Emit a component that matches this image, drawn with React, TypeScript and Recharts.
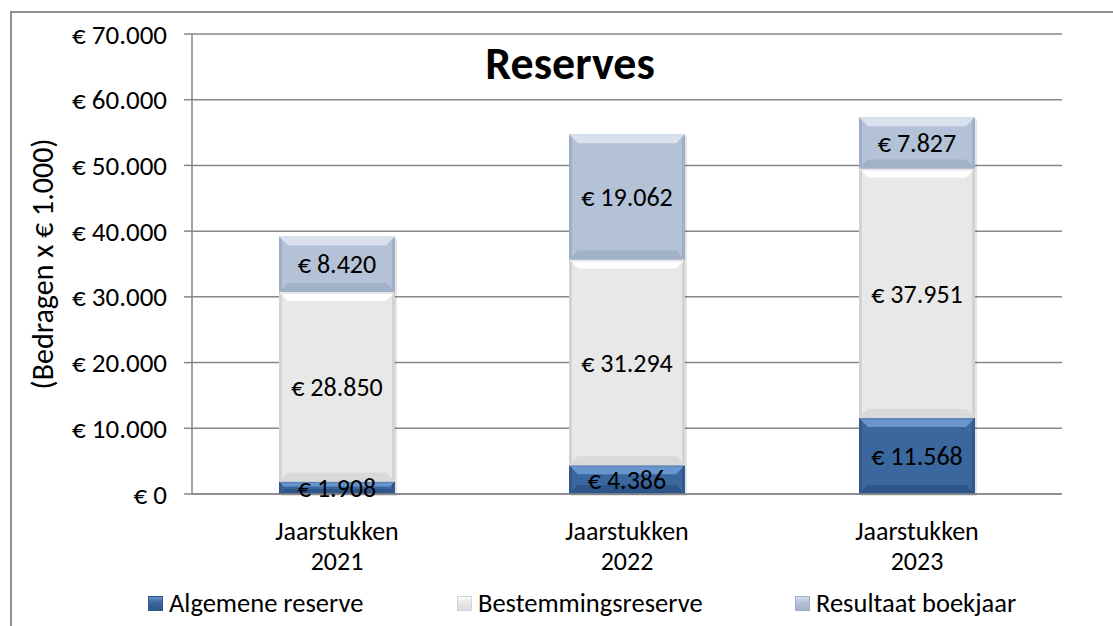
import { BarChart, Bar, XAxis, YAxis, CartesianGrid, LabelList, Legend, Label } from "recharts";

const categories = ["Jaarstukken 2021", "Jaarstukken 2022", "Jaarstukken 2023"];
const algemeneReserve = [1908, 4386, 11568];
const bestemmingsreserve = [28850, 31294, 37951];
const resultaatBoekjaar = [8420, 19062, 7827];
const yTicks = [0, 10000, 20000, 30000, 40000, 50000, 60000, 70000];
const edgeTicks = [0, 1, 2, 3];

const data = categories.map((name, i) => ({
  name,
  algemene: algemeneReserve[i],
  bestemming: bestemmingsreserve[i],
  resultaat: resultaatBoekjaar[i],
}));

const FONT = "Carlito, Lato, sans-serif";
const GRID = "#878787";

// colours for the bevelled look excel gives these bars
const palettes = {
  algemene: { base: "#3b679f", top: "#6a96cf", bottom: "#2d5588", side: "#33598c" },
  bestemming: { base: "#e8e8e8", top: "#ffffff", bottom: "#d9d9d9", side: "#d3d3d3" },
  resultaat: { base: "#b4c2d7", top: "#d8e1ed", bottom: "#a1b1c7", side: "#9fafc5" },
};

type Palette = { base: string; top: string; bottom: string; side: string };

function bevelShape(p: Palette) {
  return (props: any) => {
    const { x, y, width: w, height: h } = props;
    if (!h || h <= 0) return <g />;
    const b = Math.min(9, h / 2.5, w / 2);
    return (
      <g>
        <rect x={x + 2} y={y + 2} width={w} height={h} fill="#000" opacity={0.1} />
        <rect x={x} y={y} width={w} height={h} fill={p.base} />
        <polygon points={`${x},${y} ${x + w},${y} ${x + w - b},${y + b} ${x + b},${y + b}`} fill={p.top} />
        <polygon
          points={`${x},${y + h} ${x + w},${y + h} ${x + w - b},${y + h - b} ${x + b},${y + h - b}`}
          fill={p.bottom}
        />
        <polygon points={`${x},${y} ${x + 3},${y + 3} ${x + 3},${y + h - 3} ${x},${y + h}`} fill={p.side} />
        <polygon
          points={`${x + w},${y} ${x + w - 3},${y + 3} ${x + w - 3},${y + h - 3} ${x + w},${y + h}`}
          fill={p.side}
        />
      </g>
    );
  };
}

function euro(v: number): string {
  const s = Math.round(v).toString().replace(/\B(?=(\d{3})+(?!\d))/g, ".");
  return `€ ${s}`;
}

function CategoryTick(props: any) {
  const { x, y, payload } = props;
  const [first, second] = String(payload.value).split(" ");
  return (
    <g>
      <text x={x} y={y + 29} textAnchor="middle" dominantBaseline="central" fontSize={26} fill="#000" fontFamily={FONT}>
        {first}
      </text>
      <text x={x} y={y + 59} textAnchor="middle" dominantBaseline="central" fontSize={26} fill="#000" fontFamily={FONT}>
        {second}
      </text>
    </g>
  );
}

const legendItems = [
  { label: "Algemene reserve", p: palettes.algemene, left: 148 },
  { label: "Bestemmingsreserve", p: palettes.bestemming, left: 457 },
  { label: "Resultaat boekjaar", p: palettes.resultaat, left: 795 },
];

function LegendContent() {
  return (
    <div style={{ position: "relative", height: 30, width: 1113 }}>
      {legendItems.map((it) => (
        <div
          key={it.label}
          style={{
            position: "absolute",
            left: it.left,
            top: 0,
            height: 30,
            display: "flex",
            alignItems: "center",
            fontFamily: FONT,
            fontSize: 26.5,
            color: "#000",
            whiteSpace: "nowrap",
          }}
        >
          <span
            style={{
              display: "inline-block",
              width: 15,
              height: 15,
              marginRight: 6,
              background: `linear-gradient(${it.p.top}, ${it.p.base} 45%, ${it.p.bottom})`,
              boxShadow: `inset 0 0 0 1px ${it.p.side}`,
            }}
          />
          {it.label}
        </div>
      ))}
    </div>
  );
}

export default function App() {
  return (
    <div style={{ position: "relative", width: 1113, height: 626, overflow: "hidden", background: "#fff" }}>
      <style>{"body{margin:0}"}</style>
      <div
        style={{
          position: "absolute",
          left: 10,
          top: 11,
          width: 1200,
          height: 800,
          border: "2px solid #8e8e8e",
          boxSizing: "border-box",
        }}
      />
      <BarChart
        width={1113}
        height={626}
        data={data}
        margin={{ top: 34, right: 51, bottom: 8, left: 0 }}
        barCategoryGap="30%"
        style={{ position: "absolute", left: 0, top: 0 }}
      >
        <CartesianGrid vertical={false} stroke={GRID} strokeWidth={1.5} />
        <XAxis
          xAxisId="edge"
          type="number"
          domain={[0, 3]}
          ticks={edgeTicks}
          height={0}
          axisLine={false}
          tick={false}
          tickSize={8}
          tickLine={{ stroke: GRID, strokeWidth: 1.5 }}
        />
        <XAxis
          dataKey="name"
          height={94}
          tickLine={false}
          axisLine={{ stroke: GRID, strokeWidth: 1.5 }}
          tick={<CategoryTick />}
          interval={0}
        />
        <YAxis
          width={192}
          domain={[0, 70000]}
          ticks={yTicks}
          tickFormatter={euro}
          tickSize={8}
          tickMargin={17}
          axisLine={{ stroke: GRID, strokeWidth: 1.5 }}
          tickLine={{ stroke: GRID, strokeWidth: 1.5 }}
          tick={{ fontSize: 27, fill: "#000", fontFamily: FONT }}
        >
          <Label
            content={(lp: any) => {
              const vb = lp.viewBox;
              const cx = vb.x + 42;
              const cy = vb.y + vb.height / 2;
              return (
                <text
                  x={cx}
                  y={cy}
                  transform={`rotate(-90, ${cx}, ${cy})`}
                  textAnchor="middle"
                  dominantBaseline="central"
                  fontSize={30}
                  fontFamily={FONT}
                  fill="#000"
                >
                  (Bedragen x € 1.000)
                </text>
              );
            }}
          />
        </YAxis>
        <Legend verticalAlign="bottom" content={<LegendContent />} />
        <Bar
          dataKey="algemene"
          name="Algemene reserve"
          stackId="a"
          fill={palettes.algemene.base}
          shape={bevelShape(palettes.algemene)}
          isAnimationActive={false}
        >
          <LabelList dataKey="algemene" position="center" formatter={euro} fill="#000" fontSize={26} fontFamily={FONT} />
        </Bar>
        <Bar
          dataKey="bestemming"
          name="Bestemmingsreserve"
          stackId="a"
          fill={palettes.bestemming.base}
          shape={bevelShape(palettes.bestemming)}
          isAnimationActive={false}
        >
          <LabelList dataKey="bestemming" position="center" formatter={euro} fill="#000" fontSize={26} fontFamily={FONT} />
        </Bar>
        <Bar
          dataKey="resultaat"
          name="Resultaat boekjaar"
          stackId="a"
          fill={palettes.resultaat.base}
          shape={bevelShape(palettes.resultaat)}
          isAnimationActive={false}
        >
          <LabelList dataKey="resultaat" position="center" formatter={euro} fill="#000" fontSize={26} fontFamily={FONT} />
        </Bar>
      </BarChart>
      <div
        style={{
          position: "absolute",
          left: 0,
          width: 1140,
          top: 35,
          lineHeight: "56px",
          textAlign: "center",
          fontFamily: FONT,
          fontWeight: "bold",
          fontSize: 46,
          color: "#000",
          pointerEvents: "none",
        }}
      >
        Reserves
      </div>
    </div>
  );
}
